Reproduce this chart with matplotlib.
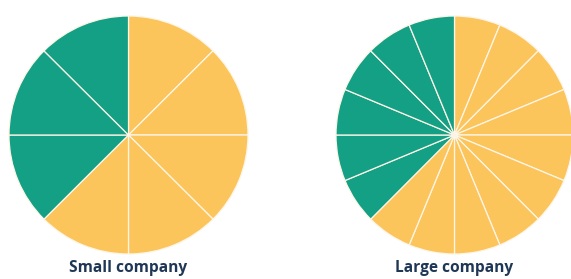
import matplotlib.pyplot as plt

# Podaci: jednaki isecci, boja po grupi
titles = ["Small company", "Large company"]
small_slices = [1, 1, 1, 1, 1, 1, 1, 1]
small_groups = ["a", "a", "a", "a", "a", "b", "b", "b"]
large_slices = [1] * 16
large_groups = ["a"] * 10 + ["b"] * 6

group_colors = {"a": "#fcc55b", "b": "#14a085"}

W, H = 571, 279
fig = plt.figure(figsize=(W / 100, H / 100), dpi=100)

# pozicije u pikselima: (levo, gore, desno, dole)
boxes = [(9, 16, 248, 254), (336, 16, 573, 254)]

for title, slices, groups, (x0, y0, x1, y1) in zip(
        titles, [small_slices, large_slices], [small_groups, large_groups], boxes):
    ax = fig.add_axes([x0 / W, 1 - y1 / H, (x1 - x0) / W, (y1 - y0) / H])
    ax.pie(slices, colors=[group_colors[g] for g in groups], startangle=90,
           counterclock=False,
           wedgeprops=dict(edgecolor="#fdf6e8", linewidth=0.9))
    ax.set_xlim(-1, 1)
    ax.set_ylim(-1, 1)
    ax.set_aspect("auto")
    ax.axis("off")
    fig.text((x0 + x1) / 2 / W, 1 - 268 / H, title, ha="center", va="center",
             fontsize=11.2, fontweight="bold", family="Open Sans", color="#1f3756")

fig.savefig("out.png", dpi=100)
